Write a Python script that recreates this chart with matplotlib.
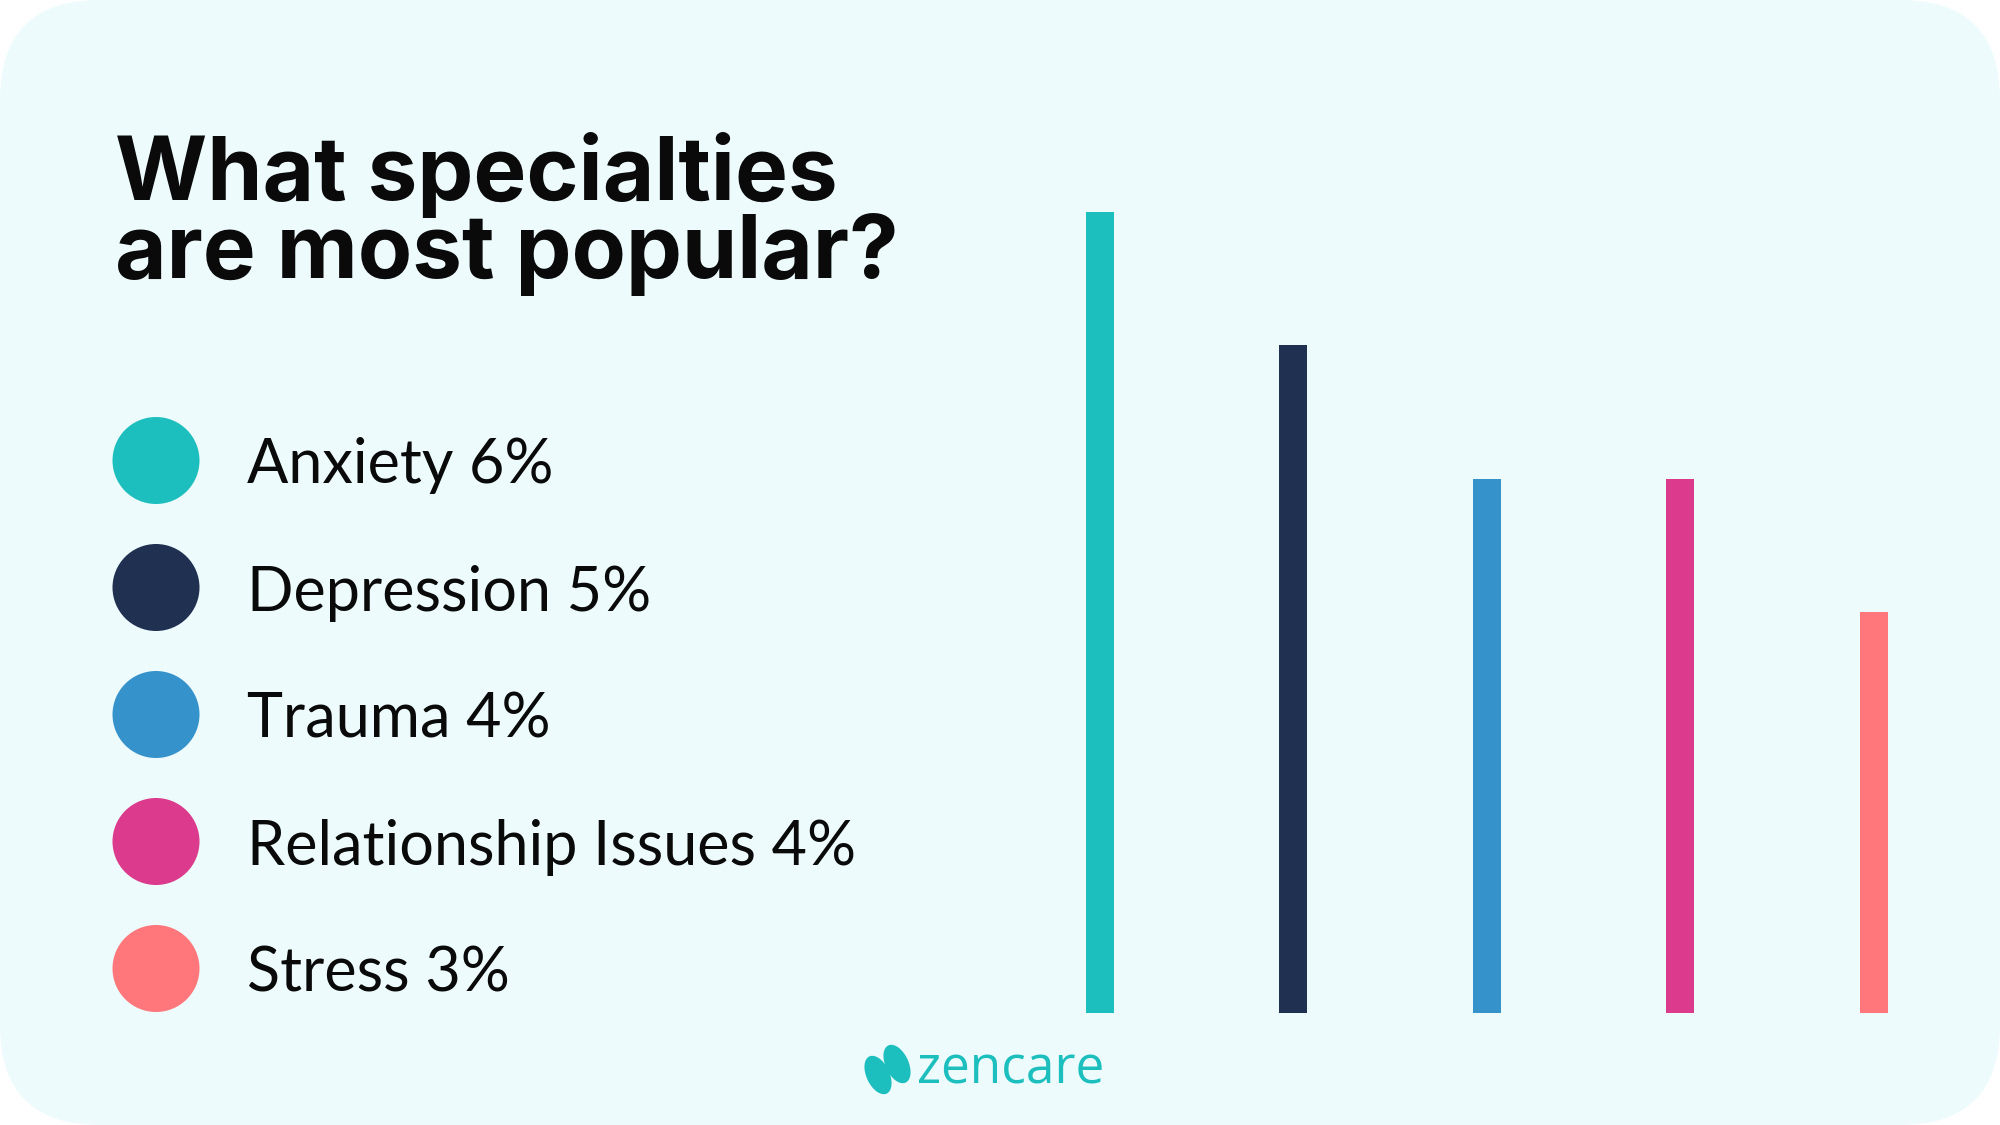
import matplotlib
matplotlib.use("Agg")
import matplotlib.pyplot as plt
from matplotlib.patches import FancyBboxPatch, Circle, Ellipse

# ---- data ----
categories = ["Anxiety", "Depression", "Trauma", "Relationship Issues", "Stress"]
values = [6, 5, 4, 4, 3]
colors = ["#1DBEBE", "#1F3050", "#3692CB", "#DC3A8C", "#FF777B"]
title_lines = ["What specialties", "are most popular?"]
brand = "zencare"

BG = "#EDFBFC"
TEAL = "#1DBEBE"

W, H = 2000, 1125
fig = plt.figure(figsize=(20, 11.25), dpi=100, facecolor="white")

# background / decoration axes in pixel coordinates
bg = fig.add_axes([0, 0, 1, 1])
bg.set_xlim(0, W)
bg.set_ylim(H, 0)
bg.axis("off")
bg.add_patch(FancyBboxPatch((0, 0), W, H, boxstyle="round,pad=0,rounding_size=100",
                            facecolor=BG, edgecolor="none"))

# title
bg.text(115, 200, title_lines[0], fontsize=64, fontweight="bold", family="Inter",
        color="#0a0a0a", va="baseline", ha="left")
bg.text(115, 278, title_lines[1], fontsize=64, fontweight="bold", family="Inter",
        color="#0a0a0a", va="baseline", ha="left")

# legend
y0, dy = 460.5, 127
for i, (cat, val, col) in enumerate(zip(categories, values, colors)):
    cy = y0 + i * dy
    bg.add_patch(Circle((156, cy), 43.5, facecolor=col, edgecolor="none"))
    bg.text(247, cy, f"{cat} {val}%", fontsize=44, family="Lato", color="#0a0a0a",
            va="center_baseline", ha="left")

# logo
bg.add_patch(Ellipse((878, 1075), 23, 41, angle=-25, facecolor=TEAL, edgecolor="none"))
bg.add_patch(Ellipse((897, 1064), 23, 41, angle=-25, facecolor=TEAL, edgecolor="none"))
bg.text(917, 1083, brand, fontsize=37, family="Open Sans", color=TEAL, va="baseline", ha="left")

# bars
ax = fig.add_axes([1003.3 / W, (H - 1012.5) / H, 967 / W, (1012.5 - 211.7) / H])
ax.set_facecolor("none")
ax.bar(range(len(values)), values, width=0.145, color=colors)
ax.set_xlim(-0.5, len(values) - 0.5)
ax.set_ylim(0, 6)
ax.axis("off")

fig.savefig("out.png", dpi=100, facecolor="white")
